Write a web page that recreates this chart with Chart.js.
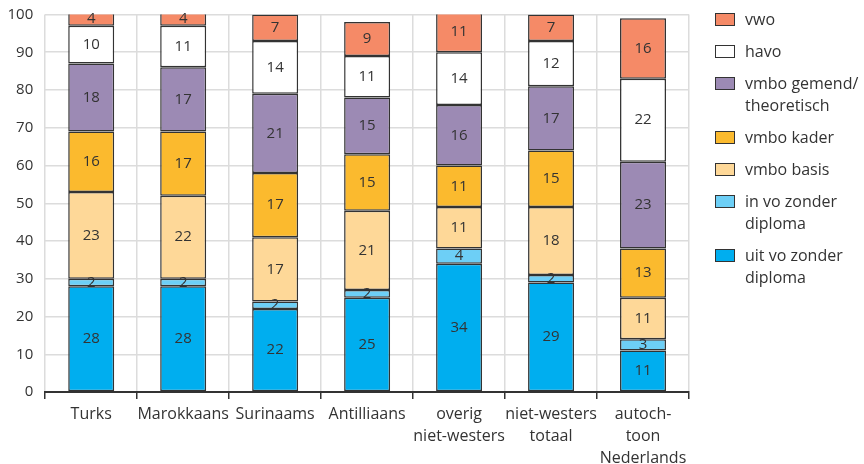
<!DOCTYPE html>
<html>
<head>
<meta charset="utf-8">
<script src="https://cdn.jsdelivr.net/npm/chart.js@4.4.1/dist/chart.umd.min.js"></script>
<style>
    body { margin: 0; background: #fff; font-family: 'Open Sans', sans-serif; }
    #wrap { position: relative; width: 864px; height: 464px; }
    #legend { position: absolute; left: 715px; top: 8px; color: #333; font-size: 16px; }
    .item { display: flex; align-items: flex-start; margin-bottom: 10px; }
    .box { box-sizing: border-box; width: 20px; height: 13px; border: 1.5px solid #333; margin-top: 4.5px; margin-right: 10px; }
    .txt { line-height: 22px; }
</style>
</head>
<body>
<div id="wrap">
    <canvas id="chart" width="864" height="464"></canvas>
    <div id="legend"></div>
</div>
<script>
// categories (x axis), multi-line where the picture wraps
const categories = ['Turks', 'Marokkaans', 'Surinaams', 'Antilliaans',
    ['overig', 'niet-westers'], ['niet-westers', 'totaal'], ['autoch-', 'toon', 'Nederlands']];

// series, bottom to top of the stack
const uitVo = [28, 28, 22, 25, 34, 29, 11];
const inVo = [2, 2, 2, 2, 4, 2, 3];
const vmboBasis = [23, 22, 17, 21, 11, 18, 11];
const vmboKader = [16, 17, 17, 15, 11, 15, 13];
const vmboGemend = [18, 17, 21, 15, 16, 17, 23];
const havo = [10, 11, 14, 11, 14, 12, 22];
const vwo = [4, 4, 7, 9, 11, 7, 16];

const yTicks = [0, 10, 20, 30, 40, 50, 60, 70, 80, 90, 100];

const series = [
    { name: ['uit vo zonder', 'diploma'], data: uitVo, color: '#00aeef' },
    { name: ['in vo zonder', 'diploma'], data: inVo, color: '#6dcff6' },
    { name: ['vmbo basis'], data: vmboBasis, color: '#fed898' },
    { name: ['vmbo kader'], data: vmboKader, color: '#fbba2e' },
    { name: ['vmbo gemend/', 'theoretisch'], data: vmboGemend, color: '#9c8ab4' },
    { name: ['havo'], data: havo, color: '#ffffff' },
    { name: ['vwo'], data: vwo, color: '#f58a67' }
];

// legend, top to bottom = reverse of stack
const legend = document.getElementById('legend');
series.slice().reverse().forEach(s => {
    const item = document.createElement('div');
    item.className = 'item';
    const box = document.createElement('div');
    box.className = 'box';
    box.style.background = s.color;
    const txt = document.createElement('div');
    txt.className = 'txt';
    txt.innerHTML = s.name.join('<br>');
    item.appendChild(box);
    item.appendChild(txt);
    legend.appendChild(item);
});

// value labels in the middle of every segment
const segmentLabels = {
    id: 'segmentLabels',
    afterDatasetsDraw(chart) {
        const ctx = chart.ctx;
        ctx.save();
        ctx.font = '15px "Open Sans"';
        ctx.fillStyle = '#333';
        ctx.textAlign = 'center';
        ctx.textBaseline = 'middle';
        chart.data.datasets.forEach((ds, i) => {
            chart.getDatasetMeta(i).data.forEach((bar, j) => {
                ctx.fillText(ds.data[j], bar.x, (bar.y + bar.base) / 2);
            });
        });
        ctx.restore();
    }
};

const ctx = document.getElementById('chart').getContext('2d');
new Chart(ctx, {
    type: 'bar',
    data: {
        labels: categories,
        datasets: series.map(s => ({
            label: s.name.join(' '),
            data: s.data,
            backgroundColor: s.color,
            borderColor: '#333',
            borderWidth: 1.5,
            borderSkipped: false,
            categoryPercentage: 1,
            barPercentage: 0.5
        }))
    },
    options: {
        responsive: false,
        animation: false,
        layout: { padding: { left: -4.5, right: 175, top: 14.5, bottom: -9 } },
        plugins: {
            legend: { display: false },
            tooltip: { enabled: false }
        },
        scales: {
            x: {
                stacked: true,
                grid: { offset: true, color: '#dcdcdc', lineWidth: 1.5, tickColor: '#333', tickLength: 7 },
                border: { display: true, color: '#333', width: 2 },
                ticks: {
                    color: '#333',
                    padding: 4,
                    maxRotation: 0,
                    autoSkip: false,
                    font: { family: 'Open Sans', size: 16, lineHeight: 1.375 }
                }
            },
            y: {
                stacked: true,
                min: 0,
                max: 100,
                afterBuildTicks: axis => { axis.ticks = yTicks.map(v => ({ value: v })); },
                grid: { color: '#dcdcdc', lineWidth: 1.5, drawTicks: false },
                border: { display: false },
                ticks: {
                    color: '#333',
                    padding: 12,
                    font: { family: 'Open Sans', size: 15, lineHeight: 0.1 }
                }
            }
        }
    },
    plugins: [segmentLabels]
});
</script>
</body>
</html>
